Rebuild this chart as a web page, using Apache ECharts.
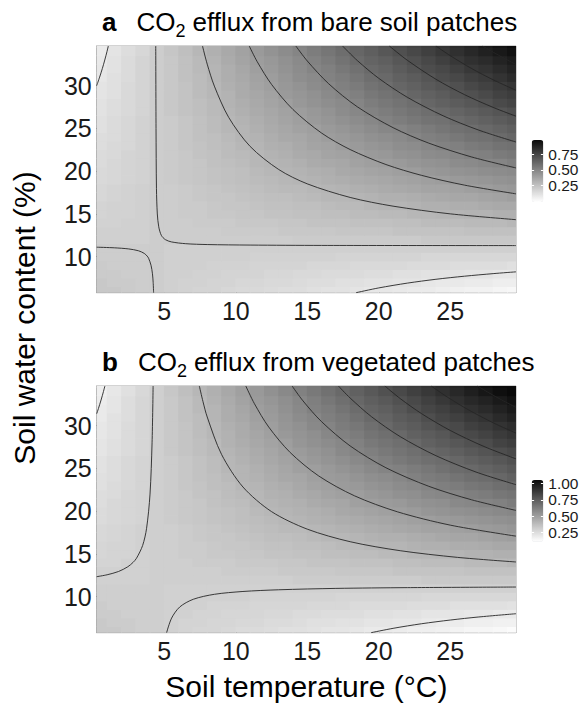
<!DOCTYPE html>
<html><head><meta charset="utf-8">
<script src="https://cdn.jsdelivr.net/npm/echarts@6/dist/echarts.min.js"></script>
<style>html,body{margin:0;padding:0;background:#fff}#c{width:583px;height:705px}</style>
</head><body><div id="c"></div>
<script>
// ---- data ----
const tempCenters = [0.5,1.5,2.5,3.5,4.5,5.5,6.5,7.5,8.5,9.5,10.5,11.5,12.5,13.5,14.5,15.5,16.5,17.5,18.5,19.5,20.5,21.5,22.5,23.5,24.5,25.5,26.5,27.5,28.5,29.5];
const waterCenters = [6,7,8,9,10,11,12,13,14,15,16,17,18,19,20,21,22,23,24,25,26,27,28,29,30,31,32,33,34,35];
const tempRange = [0.27, 29.6];
const waterRange = [5.79, 34.64];
const xTicks = [5,10,15,20,25];
const yTicks = [10,15,20,25,30];
const bareRange = [-0.015, 0.98];
const vegRange = [0.113, 1.05];
const bareBarTicks = [0.25,0.5,0.75];
const vegBarTicks = [0.25,0.5,0.75,1.0];

// CO2 efflux, bare soil (rows = water content, cols = temperature)
const effluxBare = [
[0.22,0.22,0.21,0.20,0.20,0.19,0.18,0.17,0.17,0.16,0.15,0.15,0.14,0.13,0.13,0.12,0.11,0.11,0.10,0.09,0.09,0.08,0.07,0.07,0.06,0.05,0.04,0.04,0.03,0.02],
[0.22,0.21,0.21,0.20,0.20,0.19,0.18,0.18,0.17,0.17,0.16,0.16,0.15,0.15,0.14,0.13,0.13,0.12,0.12,0.11,0.11,0.10,0.10,0.09,0.08,0.08,0.07,0.07,0.06,0.06],
[0.21,0.21,0.20,0.20,0.20,0.19,0.19,0.18,0.18,0.17,0.17,0.17,0.16,0.16,0.15,0.15,0.14,0.14,0.14,0.13,0.13,0.12,0.12,0.11,0.11,0.11,0.10,0.10,0.09,0.09],
[0.21,0.20,0.20,0.20,0.20,0.19,0.19,0.19,0.18,0.18,0.18,0.17,0.17,0.17,0.17,0.16,0.16,0.16,0.15,0.15,0.15,0.15,0.14,0.14,0.14,0.13,0.13,0.13,0.13,0.12],
[0.20,0.20,0.20,0.20,0.20,0.19,0.19,0.19,0.19,0.19,0.19,0.18,0.18,0.18,0.18,0.18,0.18,0.17,0.17,0.17,0.17,0.17,0.17,0.16,0.16,0.16,0.16,0.16,0.16,0.16],
[0.20,0.20,0.20,0.20,0.20,0.19,0.19,0.19,0.19,0.19,0.19,0.19,0.19,0.19,0.19,0.19,0.19,0.19,0.19,0.19,0.19,0.19,0.19,0.19,0.19,0.19,0.19,0.19,0.19,0.19],
[0.19,0.19,0.19,0.19,0.20,0.20,0.20,0.20,0.20,0.20,0.20,0.20,0.20,0.20,0.21,0.21,0.21,0.21,0.21,0.21,0.21,0.21,0.21,0.22,0.22,0.22,0.22,0.22,0.22,0.22],
[0.19,0.19,0.19,0.19,0.20,0.20,0.20,0.20,0.20,0.21,0.21,0.21,0.21,0.22,0.22,0.22,0.22,0.23,0.23,0.23,0.23,0.24,0.24,0.24,0.24,0.24,0.25,0.25,0.25,0.25],
[0.18,0.18,0.19,0.19,0.20,0.20,0.20,0.21,0.21,0.21,0.22,0.22,0.22,0.23,0.23,0.24,0.24,0.24,0.25,0.25,0.25,0.26,0.26,0.27,0.27,0.27,0.28,0.28,0.28,0.29],
[0.17,0.18,0.18,0.19,0.20,0.20,0.21,0.21,0.22,0.22,0.23,0.23,0.24,0.24,0.25,0.25,0.26,0.26,0.27,0.27,0.28,0.28,0.29,0.29,0.30,0.30,0.31,0.31,0.32,0.32],
[0.17,0.18,0.18,0.19,0.20,0.20,0.21,0.21,0.22,0.23,0.23,0.24,0.25,0.25,0.26,0.26,0.27,0.28,0.28,0.29,0.30,0.30,0.31,0.32,0.32,0.33,0.33,0.34,0.35,0.35],
[0.16,0.17,0.18,0.19,0.20,0.20,0.21,0.22,0.23,0.23,0.24,0.25,0.26,0.26,0.27,0.28,0.29,0.29,0.30,0.31,0.32,0.32,0.33,0.34,0.35,0.36,0.36,0.37,0.38,0.39],
[0.16,0.17,0.18,0.19,0.20,0.20,0.21,0.22,0.23,0.24,0.25,0.26,0.27,0.28,0.28,0.29,0.30,0.31,0.32,0.33,0.34,0.35,0.36,0.37,0.37,0.38,0.39,0.40,0.41,0.42],
[0.15,0.16,0.17,0.18,0.20,0.21,0.22,0.23,0.24,0.25,0.26,0.27,0.28,0.29,0.30,0.31,0.32,0.33,0.34,0.35,0.36,0.37,0.38,0.39,0.40,0.41,0.42,0.43,0.44,0.45],
[0.15,0.16,0.17,0.18,0.20,0.21,0.22,0.23,0.24,0.25,0.26,0.28,0.29,0.30,0.31,0.32,0.33,0.35,0.36,0.37,0.38,0.39,0.40,0.42,0.43,0.44,0.45,0.46,0.47,0.48],
[0.14,0.16,0.17,0.18,0.20,0.21,0.22,0.23,0.25,0.26,0.27,0.29,0.30,0.31,0.32,0.34,0.35,0.36,0.38,0.39,0.40,0.41,0.43,0.44,0.45,0.47,0.48,0.49,0.50,0.52],
[0.14,0.15,0.17,0.18,0.20,0.21,0.22,0.24,0.25,0.27,0.28,0.29,0.31,0.32,0.34,0.35,0.37,0.38,0.39,0.41,0.42,0.44,0.45,0.47,0.48,0.49,0.51,0.52,0.54,0.55],
[0.13,0.15,0.16,0.18,0.20,0.21,0.23,0.24,0.26,0.27,0.29,0.30,0.32,0.33,0.35,0.37,0.38,0.40,0.41,0.43,0.44,0.46,0.47,0.49,0.51,0.52,0.54,0.55,0.57,0.58],
[0.13,0.14,0.16,0.18,0.20,0.21,0.23,0.25,0.26,0.28,0.30,0.31,0.33,0.35,0.36,0.38,0.40,0.41,0.43,0.45,0.46,0.48,0.50,0.52,0.53,0.55,0.57,0.58,0.60,0.62],
[0.12,0.14,0.16,0.18,0.20,0.21,0.23,0.25,0.27,0.29,0.30,0.32,0.34,0.36,0.38,0.39,0.41,0.43,0.45,0.47,0.49,0.50,0.52,0.54,0.56,0.58,0.59,0.61,0.63,0.65],
[0.12,0.14,0.16,0.18,0.20,0.21,0.23,0.25,0.27,0.29,0.31,0.33,0.35,0.37,0.39,0.41,0.43,0.45,0.47,0.49,0.51,0.53,0.55,0.57,0.58,0.60,0.62,0.64,0.66,0.68],
[0.11,0.13,0.15,0.17,0.20,0.22,0.24,0.26,0.28,0.30,0.32,0.34,0.36,0.38,0.40,0.42,0.44,0.47,0.49,0.51,0.53,0.55,0.57,0.59,0.61,0.63,0.65,0.67,0.69,0.71],
[0.11,0.13,0.15,0.17,0.20,0.22,0.24,0.26,0.28,0.31,0.33,0.35,0.37,0.39,0.42,0.44,0.46,0.48,0.50,0.53,0.55,0.57,0.59,0.62,0.64,0.66,0.68,0.70,0.73,0.75],
[0.10,0.12,0.15,0.17,0.20,0.22,0.24,0.27,0.29,0.31,0.34,0.36,0.38,0.41,0.43,0.45,0.48,0.50,0.52,0.55,0.57,0.59,0.62,0.64,0.66,0.69,0.71,0.73,0.76,0.78],
[0.10,0.12,0.15,0.17,0.20,0.22,0.24,0.27,0.29,0.32,0.34,0.37,0.39,0.42,0.44,0.47,0.49,0.52,0.54,0.57,0.59,0.62,0.64,0.67,0.69,0.71,0.74,0.76,0.79,0.81],
[0.09,0.12,0.14,0.17,0.20,0.22,0.25,0.27,0.30,0.33,0.35,0.38,0.40,0.43,0.46,0.48,0.51,0.53,0.56,0.59,0.61,0.64,0.66,0.69,0.72,0.74,0.77,0.79,0.82,0.85],
[0.09,0.11,0.14,0.17,0.20,0.22,0.25,0.28,0.30,0.33,0.36,0.39,0.41,0.44,0.47,0.50,0.52,0.55,0.58,0.61,0.63,0.66,0.69,0.72,0.74,0.77,0.80,0.82,0.85,0.88],
[0.08,0.11,0.14,0.17,0.20,0.22,0.25,0.28,0.31,0.34,0.37,0.40,0.42,0.45,0.48,0.51,0.54,0.57,0.60,0.63,0.65,0.68,0.71,0.74,0.77,0.80,0.83,0.85,0.88,0.91],
[0.07,0.10,0.13,0.16,0.20,0.23,0.26,0.29,0.32,0.35,0.38,0.41,0.44,0.47,0.50,0.53,0.56,0.59,0.62,0.65,0.68,0.71,0.74,0.77,0.80,0.83,0.86,0.89,0.92,0.95],
[0.07,0.10,0.13,0.16,0.20,0.23,0.26,0.29,0.32,0.35,0.38,0.41,0.45,0.48,0.51,0.54,0.57,0.60,0.63,0.66,0.70,0.73,0.76,0.79,0.82,0.85,0.88,0.92,0.95,0.98]
];

// CO2 efflux, vegetated patches
const effluxVeg = [
[0.33,0.33,0.32,0.31,0.31,0.30,0.29,0.28,0.28,0.27,0.26,0.26,0.25,0.24,0.24,0.23,0.22,0.22,0.21,0.20,0.20,0.19,0.18,0.18,0.17,0.16,0.15,0.15,0.14,0.13],
[0.33,0.32,0.32,0.31,0.31,0.30,0.29,0.29,0.28,0.28,0.27,0.27,0.26,0.26,0.25,0.24,0.24,0.23,0.23,0.22,0.22,0.21,0.21,0.20,0.19,0.19,0.18,0.18,0.17,0.17],
[0.32,0.32,0.31,0.31,0.31,0.30,0.30,0.29,0.29,0.28,0.28,0.28,0.27,0.27,0.26,0.26,0.25,0.25,0.25,0.24,0.24,0.23,0.23,0.22,0.22,0.22,0.21,0.21,0.20,0.20],
[0.32,0.31,0.31,0.31,0.31,0.30,0.30,0.30,0.29,0.29,0.29,0.28,0.28,0.28,0.28,0.27,0.27,0.27,0.26,0.26,0.26,0.26,0.25,0.25,0.25,0.24,0.24,0.24,0.24,0.23],
[0.31,0.31,0.31,0.31,0.31,0.30,0.30,0.30,0.30,0.30,0.30,0.29,0.29,0.29,0.29,0.29,0.29,0.28,0.28,0.28,0.28,0.28,0.28,0.27,0.27,0.27,0.27,0.27,0.27,0.27],
[0.31,0.31,0.31,0.31,0.31,0.30,0.30,0.30,0.30,0.30,0.30,0.30,0.30,0.30,0.30,0.30,0.30,0.30,0.30,0.30,0.30,0.30,0.30,0.30,0.30,0.30,0.30,0.30,0.30,0.30],
[0.30,0.30,0.30,0.30,0.31,0.31,0.31,0.31,0.31,0.31,0.31,0.31,0.31,0.31,0.32,0.32,0.32,0.32,0.32,0.32,0.32,0.32,0.32,0.33,0.33,0.33,0.33,0.33,0.33,0.33],
[0.30,0.30,0.30,0.30,0.31,0.31,0.31,0.31,0.31,0.32,0.32,0.32,0.32,0.33,0.33,0.33,0.33,0.34,0.34,0.34,0.34,0.35,0.35,0.35,0.35,0.35,0.36,0.36,0.36,0.36],
[0.29,0.29,0.30,0.30,0.31,0.31,0.31,0.32,0.32,0.32,0.33,0.33,0.33,0.34,0.34,0.35,0.35,0.35,0.36,0.36,0.36,0.37,0.37,0.38,0.38,0.38,0.39,0.39,0.39,0.40],
[0.28,0.29,0.29,0.30,0.31,0.31,0.32,0.32,0.33,0.33,0.34,0.34,0.35,0.35,0.36,0.36,0.37,0.37,0.38,0.38,0.39,0.39,0.40,0.40,0.41,0.41,0.42,0.42,0.43,0.43],
[0.28,0.29,0.29,0.30,0.31,0.31,0.32,0.32,0.33,0.34,0.34,0.35,0.36,0.36,0.37,0.37,0.38,0.39,0.39,0.40,0.41,0.41,0.42,0.43,0.43,0.44,0.44,0.45,0.46,0.46],
[0.27,0.28,0.29,0.30,0.31,0.31,0.32,0.33,0.34,0.34,0.35,0.36,0.37,0.37,0.38,0.39,0.40,0.40,0.41,0.42,0.43,0.43,0.44,0.45,0.46,0.47,0.47,0.48,0.49,0.50],
[0.27,0.28,0.29,0.30,0.31,0.31,0.32,0.33,0.34,0.35,0.36,0.37,0.38,0.39,0.39,0.40,0.41,0.42,0.43,0.44,0.45,0.46,0.47,0.48,0.48,0.49,0.50,0.51,0.52,0.53],
[0.26,0.27,0.28,0.29,0.31,0.32,0.33,0.34,0.35,0.36,0.37,0.38,0.39,0.40,0.41,0.42,0.43,0.44,0.45,0.46,0.47,0.48,0.49,0.50,0.51,0.52,0.53,0.54,0.55,0.56],
[0.26,0.27,0.28,0.29,0.31,0.32,0.33,0.34,0.35,0.36,0.37,0.39,0.40,0.41,0.42,0.43,0.44,0.46,0.47,0.48,0.49,0.50,0.51,0.53,0.54,0.55,0.56,0.57,0.58,0.59],
[0.25,0.27,0.28,0.29,0.31,0.32,0.33,0.34,0.36,0.37,0.38,0.40,0.41,0.42,0.43,0.45,0.46,0.47,0.49,0.50,0.51,0.52,0.54,0.55,0.56,0.58,0.59,0.60,0.61,0.63],
[0.25,0.26,0.28,0.29,0.31,0.32,0.33,0.35,0.36,0.38,0.39,0.40,0.42,0.43,0.45,0.46,0.48,0.49,0.50,0.52,0.53,0.55,0.56,0.58,0.59,0.60,0.62,0.63,0.65,0.66],
[0.24,0.26,0.27,0.29,0.31,0.32,0.34,0.35,0.37,0.38,0.40,0.41,0.43,0.44,0.46,0.48,0.49,0.51,0.52,0.54,0.55,0.57,0.58,0.60,0.62,0.63,0.65,0.66,0.68,0.69],
[0.24,0.25,0.27,0.29,0.31,0.32,0.34,0.36,0.37,0.39,0.41,0.42,0.44,0.46,0.47,0.49,0.51,0.52,0.54,0.56,0.57,0.59,0.61,0.63,0.64,0.66,0.68,0.69,0.71,0.73],
[0.23,0.25,0.27,0.29,0.31,0.32,0.34,0.36,0.38,0.40,0.41,0.43,0.45,0.47,0.49,0.50,0.52,0.54,0.56,0.58,0.60,0.61,0.63,0.65,0.67,0.69,0.70,0.72,0.74,0.76],
[0.23,0.25,0.27,0.29,0.31,0.32,0.34,0.36,0.38,0.40,0.42,0.44,0.46,0.48,0.50,0.52,0.54,0.56,0.58,0.60,0.62,0.64,0.66,0.68,0.69,0.71,0.73,0.75,0.77,0.79],
[0.22,0.24,0.26,0.28,0.31,0.33,0.35,0.37,0.39,0.41,0.43,0.45,0.47,0.49,0.51,0.53,0.55,0.58,0.60,0.62,0.64,0.66,0.68,0.70,0.72,0.74,0.76,0.78,0.80,0.82],
[0.22,0.24,0.26,0.28,0.31,0.33,0.35,0.37,0.39,0.42,0.44,0.46,0.48,0.50,0.53,0.55,0.57,0.59,0.61,0.64,0.66,0.68,0.70,0.73,0.75,0.77,0.79,0.81,0.84,0.86],
[0.21,0.23,0.26,0.28,0.31,0.33,0.35,0.38,0.40,0.42,0.45,0.47,0.49,0.52,0.54,0.56,0.59,0.61,0.63,0.66,0.68,0.70,0.73,0.75,0.77,0.80,0.82,0.84,0.87,0.89],
[0.21,0.23,0.26,0.28,0.31,0.33,0.35,0.38,0.40,0.43,0.45,0.48,0.50,0.53,0.55,0.58,0.60,0.63,0.65,0.68,0.70,0.73,0.75,0.78,0.80,0.82,0.85,0.87,0.90,0.92],
[0.20,0.23,0.25,0.28,0.31,0.33,0.36,0.38,0.41,0.44,0.46,0.49,0.51,0.54,0.57,0.59,0.62,0.64,0.67,0.70,0.72,0.75,0.77,0.80,0.83,0.85,0.88,0.90,0.93,0.96],
[0.20,0.22,0.25,0.28,0.31,0.33,0.36,0.39,0.41,0.44,0.47,0.50,0.52,0.55,0.58,0.61,0.63,0.66,0.69,0.72,0.74,0.77,0.80,0.83,0.85,0.88,0.91,0.93,0.96,0.99],
[0.19,0.22,0.25,0.28,0.31,0.33,0.36,0.39,0.42,0.45,0.48,0.51,0.53,0.56,0.59,0.62,0.65,0.68,0.71,0.74,0.76,0.79,0.82,0.85,0.88,0.91,0.94,0.96,0.99,1.02],
[0.18,0.21,0.24,0.27,0.31,0.34,0.37,0.40,0.43,0.46,0.49,0.52,0.55,0.58,0.61,0.64,0.67,0.70,0.73,0.76,0.79,0.82,0.85,0.88,0.91,0.94,0.97,1.00,1.03,1.06],
[0.18,0.21,0.24,0.27,0.31,0.34,0.37,0.40,0.43,0.46,0.49,0.52,0.56,0.59,0.62,0.65,0.68,0.71,0.74,0.77,0.81,0.84,0.87,0.90,0.93,0.96,0.99,1.03,1.06,1.09]
];

// contour lines [temperature, water content], bare soil
const contoursBare = [
[[0.27,30.01],[0.475,31],[0.664,32],[0.835,33],[0.991,34],[1.084,34.64]],
[[18.41,5.79],[20,6.35],[22,6.91],[24,7.36],[26,7.72],[28,8.02],[29.6,8.23]],
[[0.27,11.11],[1.5,11.04],[2.5,10.91],[3.2,10.69],[3.6,10.38],[3.8,10.07],[3.9,9.82],[4.07,9],[4.17,8],[4.22,7],[4.25,5.79]],
[[4.40,34.64],[4.42,25],[4.45,18],[4.51,15],[4.61,13.5],[4.79,12.5],[5.07,12.0],[5.5,11.73],[6.5,11.52],[8,11.42],[11,11.36],[16,11.32],[29.6,11.30]],
[[7.67,34.64],[8.0,32.52],[8.5,29.95],[9.5,26.30],[11,22.90],[13,20.20],[15,18.52],[18,16.93],[21,15.91],[25,15.01],[29.6,14.33]],
[[10.94,34.64],[11.5,32.80],[12.5,30.15],[14,27.21],[16,24.46],[18,22.53],[20.5,20.78],[23,19.51],[26,18.37],[29.6,17.35]],
[[14.20,34.64],[15,32.89],[16.5,30.22],[18.5,27.53],[21,25.09],[23.5,23.28],[26.5,21.66],[29.6,20.38]],
[[17.47,34.64],[18.5,32.94],[20,30.86],[22,28.64],[24.5,26.48],[27,24.80],[29.6,23.41]],
[[20.74,34.64],[22,32.97],[24,30.75],[26,28.95],[28,27.46],[29.6,26.43]],
[[24.0,34.64],[25,33.51],[26.5,32.00],[28,30.69],[29.6,29.46]],
[[27.27,34.64],[28,33.92],[28.8,33.18],[29.6,32.48]]
];

// contour lines, vegetated patches
const contoursVeg = [
[[0.27,31.40],[0.39,32],[0.575,33],[0.744,34],[0.844,34.64]],
[[19.46,5.79],[21,6.30],[23,6.84],[25,7.27],[27,7.63],[29.6,8.01]],
[[4.216,34.64],[4.143,28],[4.0,22],[3.76,18],[3.485,16],[3.056,14.5],[2.807,14],[2.445,13.5],[1.8,12.95],[1.0,12.565],[0.27,12.34]],
[[5.16,5.79],[5.51,7.5],[6.08,8.8],[7.03,9.7],[8.5,10.28],[10.5,10.61],[13,10.81],[17,10.97],[22,11.06],[29.6,11.13]],
[[7.45,34.64],[7.7,32.85],[8.0,31.02],[9,26.65],[10.5,22.83],[12.5,19.95],[15,17.90],[18,16.43],[21.5,15.38],[25.5,14.60],[29.6,14.06]],
[[10.70,34.64],[11.3,32.58],[12.3,29.85],[13.8,26.87],[15.8,24.12],[18.3,21.80],[21.3,19.93],[25,18.37],[29.6,17.08]],
[[13.94,34.64],[14.7,32.90],[16,30.47],[18,27.63],[20.5,25.08],[23.5,22.91],[26.5,21.33],[29.6,20.09]],
[[17.18,34.64],[18,33.23],[19.5,31.04],[21.5,28.72],[24,26.49],[26.8,24.58],[29.6,23.10]],
[[20.43,34.64],[21.5,33.17],[23,31.40],[25,29.44],[27.3,27.61],[29.6,26.12]],
[[23.67,34.64],[24.8,33.34],[26.3,31.83],[28,30.34],[29.6,29.13]],
[[26.91,34.64],[27.7,33.85],[28.6,33.01],[29.6,32.14]]
];

// ---- build chart ----
const FONT = 'Liberation Sans, Arial, sans-serif';
const greys = ['#ffffff','#e8e8e8','#d1d1d1','#b9b9b9','#a1a1a1','#898989','#707070','#575757','#3d3d3d','#232323','#0a0a0a'];

function cells(rows) {
  const out = [];
  rows.forEach((row, i) => row.forEach((v, j) => out.push([tempCenters[j], waterCenters[i], v])));
  return out;
}
function cellRenderer(params, api) {
  const t = api.value(0), w = api.value(1);
  const a = api.coord([t - 0.5, w + 0.5]);
  const b = api.coord([t + 0.5, w - 0.5]);
  const cs = params.coordSys;
  const r = echarts.graphic.clipRectByRect(
    {x: a[0] - 0.4, y: a[1] - 0.4, width: b[0] - a[0] + 0.8, height: b[1] - a[1] + 0.8},
    {x: cs.x, y: cs.y, width: cs.width, height: cs.height});
  if (!r) return;
  return {type: 'rect', shape: r, style: {fill: api.visual('color')}};
}

const plotLeft = 96.7, plotWidth = 419.3, plotHeight = 246.7;
const tops = [46, 386];

function mainX(gi) {
  return {
    type: 'value', gridIndex: gi, min: tempRange[0], max: tempRange[1],
    axisLine: {show: true, lineStyle: {color: '#a6a6a6', width: 1}},
    axisTick: {show: true, inside: true, length: 4.5, lineStyle: {color: '#333', width: 1}, customValues: xTicks},
    axisLabel: {show: true, customValues: xTicks, fontSize: 25, color: '#1a1a1a', margin: 6, fontFamily: FONT},
    splitLine: {show: false}
  };
}
function mainY(gi) {
  return {
    type: 'value', gridIndex: gi, min: waterRange[0], max: waterRange[1],
    axisLine: {show: true, lineStyle: {color: '#a6a6a6', width: 1}},
    axisTick: {show: true, inside: true, length: 4.5, lineStyle: {color: '#333', width: 1}, customValues: yTicks},
    axisLabel: {show: true, customValues: yTicks, fontSize: 25, color: '#1a1a1a', margin: 5, fontFamily: FONT},
    splitLine: {show: false}
  };
}
// colour-bar axes: white tick marks on both sides, one labelled axis per break
function barAxes(gi, range, ticks) {
  const axes = [];
  ['left', 'right'].forEach(pos => axes.push({
    type: 'value', gridIndex: gi, min: range[0], max: range[1], position: pos, z: 10,
    axisLine: {show: false},
    axisTick: {show: true, inside: true, length: 2.4, lineStyle: {color: '#ffffff', width: 1}, customValues: ticks},
    axisLabel: {show: false}, splitLine: {show: false}
  }));
  ticks.forEach(tk => axes.push({
    type: 'value', gridIndex: gi, min: range[0], max: range[1], position: 'right', offset: 0, z: 10,
    axisLine: {show: false}, axisTick: {show: false}, splitLine: {show: false},
    axisLabel: {show: true, customValues: [tk], fontSize: 15.5, color: '#1a1a1a', margin: 5, fontFamily: FONT,
      formatter: v => Number(v).toFixed(2)}
  }));
  return axes;
}

const series = [
  {type: 'custom', name: 'bare', xAxisIndex: 0, yAxisIndex: 0, data: cells(effluxBare), renderItem: cellRenderer,
   encode: {x: 0, y: 1}, dimensions: ['T','W','v'], z: 1, silent: true},
  {type: 'custom', name: 'veg', xAxisIndex: 1, yAxisIndex: 1, data: cells(effluxVeg), renderItem: cellRenderer,
   encode: {x: 0, y: 1}, dimensions: ['T','W','v'], z: 1, silent: true}
];
function addContours(list, idx) {
  list.forEach(pts => series.push({
    type: 'line', xAxisIndex: idx, yAxisIndex: idx, data: pts, showSymbol: false, symbol: 'none',
    smooth: 0.3, z: 3, silent: true, lineStyle: {color: '#262626', width: 0.9}
  }));
}
addContours(contoursBare, 0);
addContours(contoursVeg, 1);

const titleRich = {
  b: {fontFamily: FONT, fontSize: 26, fontWeight: 'bold', color: '#000', lineHeight: 36, padding: [0, 20, 0, 0]},
  n: {fontFamily: FONT, fontSize: 26, fontWeight: 'normal', color: '#000', lineHeight: 36},
  s: {fontFamily: FONT, fontSize: 18, fontWeight: 'normal', color: '#000', lineHeight: 18, verticalAlign: 'bottom', padding: [0, 7, 0, 0]}
};

const yAxes = [mainY(0), mainY(1)].concat(barAxes(2, bareRange, bareBarTicks), barAxes(3, vegRange, vegBarTicks));

const option = {
  animation: false,
  backgroundColor: '#ffffff',
  textStyle: {fontFamily: FONT},
  title: [
    {left: 102, top: 4, padding: 0, text: '{b|a}{n|CO}{s|2}{n|efflux from bare soil patches}', textStyle: {fontWeight: 'normal', rich: titleRich}},
    {left: 102, top: 344, padding: 0, text: '{b|b}{n|CO}{s|2}{n|efflux from vegetated patches}', textStyle: {fontWeight: 'normal', rich: titleRich}}
  ],
  grid: [
    {left: plotLeft, top: tops[0], width: plotWidth, height: plotHeight, show: true, borderColor: '#a6a6a6', borderWidth: 1, backgroundColor: 'transparent'},
    {left: plotLeft, top: tops[1], width: plotWidth, height: plotHeight, show: true, borderColor: '#a6a6a6', borderWidth: 1, backgroundColor: 'transparent'},
    {left: 531.7, top: 140, width: 11.6, height: 62},
    {left: 531.7, top: 480, width: 11.6, height: 61.7}
  ],
  xAxis: [mainX(0), mainX(1),
    {type: 'value', gridIndex: 2, show: false, min: 0, max: 1},
    {type: 'value', gridIndex: 3, show: false, min: 0, max: 1}],
  yAxis: yAxes,
  visualMap: [
    {type: 'continuous', seriesIndex: 0, dimension: 2, min: bareRange[0], max: bareRange[1], inRange: {color: greys},
     calculable: false, orient: 'vertical', left: 531.7, top: 140, itemWidth: 11.6, itemHeight: 62, padding: 0, hoverLink: false},
    {type: 'continuous', seriesIndex: 1, dimension: 2, min: vegRange[0], max: vegRange[1], inRange: {color: greys},
     calculable: false, orient: 'vertical', left: 531.7, top: 480, itemWidth: 11.6, itemHeight: 61.7, padding: 0, hoverLink: false}
  ],
  graphic: [
    {type: 'text', x: 24, y: 318, rotation: Math.PI / 2,
     style: {text: 'Soil water content (%)', fontSize: 30, fontFamily: FONT, fill: '#000', align: 'center', verticalAlign: 'middle'}},
    {type: 'text', x: 306.4, y: 686,
     style: {text: 'Soil temperature (°C)', fontSize: 30, fontFamily: FONT, fill: '#000', align: 'center', verticalAlign: 'middle'}}
  ],
  series: series
};

const chart = echarts.init(document.getElementById('c'), null, {renderer: 'svg', width: 583, height: 705});
chart.setOption(option);
</script>
</body></html>
